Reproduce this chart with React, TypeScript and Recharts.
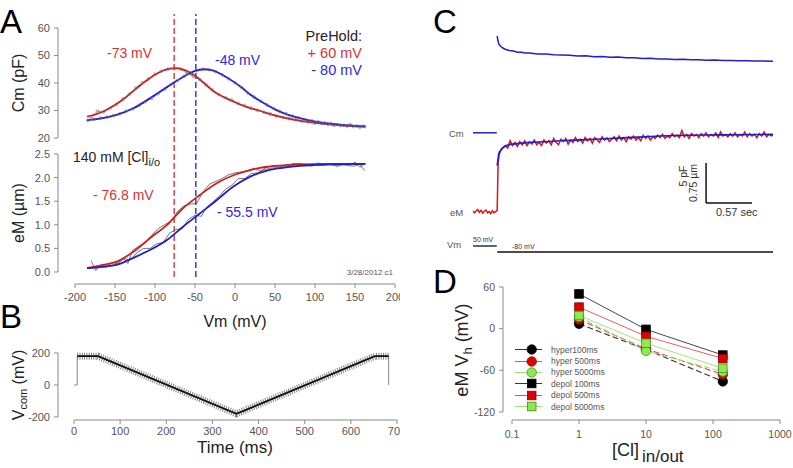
import React from 'react';
import { LineChart, Line, XAxis, YAxis, ReferenceLine, Legend } from 'recharts';

const W = 793;
const H = 468;
const FONT = '"Liberation Sans", Arial, Helvetica, sans-serif';
const RED = '#cc1f1f';
const BLUE = '#1f1fcc';
const TXT_RED = '#d43434';
const TXT_BLUE = '#2b2bd6';
const AXIS = '#8a8a8a';
const TICK = { fontSize: 11, fill: '#555', fontFamily: FONT };

// ---- A: Cm (pF) vs Vm (mV)
const cmFitRed = [[-185, 27.8], [-170, 29.0], [-155, 31.2], [-140, 34.0], [-125, 37.6], [-110, 41.0], [-95, 43.8], [-82, 45.2], [-73, 45.4], [-62, 44.6], [-50, 42.6], [-38, 39.8], [-25, 36.6], [-12, 34.6], [0, 33.0], [15, 31.2], [30, 30.0], [45, 28.6], [60, 27.5], [80, 26.3], [100, 25.5], [125, 24.8], [145, 24.4], [163, 24.1]];
const cmFitBlue = [[-185, 26.5], [-165, 27.2], [-148, 28.4], [-127, 30.8], [-106, 34.5], [-85, 38.5], [-65, 42.2], [-50, 44.4], [-40, 45.0], [-28, 44.6], [-15, 42.8], [-2, 40.5], [10, 38.0], [19, 35.8], [30, 33.7], [40, 32.0], [50, 30.4], [61, 29.0], [81, 27.2], [102, 25.9], [123, 25.1], [145, 24.5], [163, 24.2]];
const cmDataDepol = [[-180, 27.0], [-172, 29.8], [-164, 29.5], [-156, 30.9], [-148, 32.2], [-140, 34.2], [-132, 36.0], [-124, 38.2], [-116, 40.1], [-108, 41.6], [-100, 43.2], [-92, 44.3], [-84, 45.0], [-76, 45.3], [-68, 45.0], [-60, 43.6], [-52, 42.4], [-44, 41.2], [-36, 39.2], [-28, 37.4], [-20, 35.8], [-12, 34.7], [-4, 33.8], [4, 32.6], [12, 31.8], [20, 30.9], [28, 30.1], [36, 29.4], [44, 28.8], [52, 28.0], [60, 27.5], [68, 27.0], [76, 26.6], [84, 26.1], [92, 25.8], [100, 25.4], [108, 25.3], [116, 25.0], [124, 24.6], [132, 24.5], [140, 24.3], [148, 24.2], [156, 23.9], [162, 24.2]];
const cmDataHyper = [[-184, 26.3], [-176, 26.8], [-168, 27.3], [-160, 27.6], [-152, 28.2], [-144, 28.8], [-136, 29.8], [-128, 30.6], [-120, 31.8], [-112, 33.2], [-104, 34.4], [-96, 36.1], [-88, 37.8], [-80, 39.4], [-72, 40.9], [-64, 42.4], [-56, 43.6], [-48, 44.5], [-40, 45.0], [-32, 44.8], [-24, 44.1], [-16, 43.0], [-8, 41.6], [0, 40.1], [8, 38.4], [16, 36.4], [24, 34.9], [32, 33.4], [40, 32.0], [48, 30.8], [56, 29.7], [64, 28.8], [72, 28.0], [80, 27.3], [88, 26.7], [96, 26.3], [104, 25.9], [112, 25.5], [120, 25.3], [128, 24.9], [136, 24.6], [144, 24.9], [152, 24.4], [160, 24.3]];

// ---- A: eM (um) vs Vm (mV)
const emFitRed = [[-185, 0.08], [-165, 0.15], [-148, 0.22], [-127, 0.43], [-106, 0.72], [-85, 1.0], [-65, 1.35], [-44, 1.63], [-23, 1.88], [-2, 2.05], [19, 2.16], [40, 2.23], [60, 2.26], [81, 2.28], [120, 2.29], [163, 2.29]];
const emFitBlue = [[-185, 0.08], [-165, 0.11], [-148, 0.15], [-127, 0.3], [-106, 0.47], [-85, 0.68], [-65, 0.96], [-44, 1.24], [-23, 1.52], [-2, 1.81], [19, 2.02], [40, 2.15], [61, 2.21], [81, 2.25], [120, 2.28], [163, 2.29]];
const emDataDepol = [[-180, 0.24], [-174, 0.03], [-168, 0.15], [-160, 0.12], [-152, 0.2], [-146, 0.18], [-140, 0.3], [-134, 0.18], [-128, 0.46], [-120, 0.55], [-112, 0.62], [-104, 0.78], [-96, 0.92], [-88, 1.0], [-80, 1.08], [-72, 1.28], [-64, 1.4], [-56, 1.44], [-48, 1.45], [-40, 1.7], [-32, 1.86], [-24, 1.92], [-16, 1.98], [-8, 2.06], [0, 2.1], [8, 2.12], [16, 2.15], [24, 2.2], [32, 2.14], [40, 2.22], [48, 2.25], [56, 2.24], [64, 2.22], [72, 2.3], [80, 2.3], [88, 2.28], [96, 2.24], [104, 2.31], [112, 2.27], [120, 2.3], [128, 2.23], [136, 2.3], [144, 2.27], [150, 2.33], [156, 2.22], [162, 2.3]];
const emDataHyper = [[-178, 0.1], [-170, 0.14], [-162, 0.1], [-154, 0.14], [-146, 0.2], [-138, 0.28], [-130, 0.26], [-122, 0.42], [-114, 0.5], [-106, 0.5], [-98, 0.6], [-90, 0.62], [-82, 0.82], [-74, 0.9], [-66, 0.92], [-58, 1.12], [-50, 1.2], [-42, 1.18], [-36, 1.36], [-28, 1.48], [-20, 1.6], [-12, 1.75], [-4, 1.84], [4, 1.98], [12, 1.98], [20, 2.08], [28, 2.1], [36, 2.16], [44, 2.2], [52, 2.21], [60, 2.2], [68, 2.26], [76, 2.24], [84, 2.27], [92, 2.25], [100, 2.28], [108, 2.26], [116, 2.28], [124, 2.26], [132, 2.27], [140, 2.26], [148, 2.24], [156, 2.28], [162, 2.15]];
const vhRed = -76;
const vhBlue = -49;
const vmTicks = [-200, -150, -100, -50, 0, 50, 100, 150, 200];
const cmTicks = [20, 30, 40, 50, 60];
const emTicks = [0, 0.5, 1.0, 1.5, 2.0, 2.5];

// ---- B: command voltage
const vcomStep = [[0, 0], [7, 0], [7, 180], [52, 180], [352, -180], [652, 180], [682, 180], [682, 0]];
const vcomRamp = [[7, 180], [52, 180], [352, -180], [652, 180], [682, 180]];
const timeTicks = [0, 100, 200, 300, 400, 500, 600, 700];
const vcomTicks = [-200, -100, 0, 100, 200];

// ---- C: traces (time in s, amplitude in pF-equivalent)
const cTopBlue = [[0, 28.0], [0.01, 27.4], [0.02, 27.0], [0.04, 26.75], [0.07, 26.5], [0.1, 26.35], [0.15, 26.2], [0.2, 26.12], [0.25, 25.98], [0.3, 25.97], [0.35, 25.88], [0.4, 25.86], [0.5, 25.76], [0.6, 25.74], [0.7, 25.66], [0.8, 25.62], [0.9, 25.6], [1.0, 25.5], [1.1, 25.52], [1.2, 25.42], [1.3, 25.44], [1.4, 25.35], [1.5, 25.37], [1.6, 25.28], [1.7, 25.29], [1.8, 25.2], [1.9, 25.22], [2.0, 25.13], [2.1, 25.14], [2.2, 25.06], [2.3, 25.09], [2.4, 25.02], [2.5, 25.04], [2.6, 24.97], [2.7, 24.99], [2.8, 24.93], [2.9, 24.95], [3.0, 24.9], [3.1, 24.92], [3.2, 24.86], [3.3, 24.88], [3.42, 24.84]];
const cCmPre = [[-0.3, 15.9], [-0.005, 15.9]];
const cEmBlue = [[0, 11.8], [0.01, 12.6], [0.02, 13.3], [0.04, 13.7], [0.06, 13.96], [0.1, 14.25], [0.16, 14.45], [0.25, 14.55], [0.37, 14.67], [0.5, 14.75], [0.65, 14.82], [0.78, 14.9], [0.9, 14.95], [1.05, 15.02], [1.2, 15.1], [1.35, 15.16], [1.5, 15.24], [1.61, 15.3], [1.75, 15.36], [1.9, 15.44], [2.02, 15.5], [2.18, 15.56], [2.35, 15.6], [2.6, 15.62], [2.8, 15.64], [3.0, 15.65], [3.2, 15.68], [3.42, 15.7]];
const cEmRed = [[-0.3, 6.1], [-0.28, 5.9], [-0.26, 6.15], [-0.24, 6.3], [-0.22, 5.95], [-0.2, 6.2], [-0.18, 5.85], [-0.16, 6.1], [-0.14, 6.25], [-0.12, 5.9], [-0.1, 6.05], [-0.08, 5.8], [-0.06, 6.15], [-0.04, 5.9], [-0.02, 6.05], [0.0, 6.2], [0.005, 9.0], [0.012, 12.2], [0.025, 13.2], [0.045, 13.7], [0.07, 14.0], [0.1, 14.3], [0.13, 14.0], [0.16, 14.9], [0.19, 14.3], [0.22, 14.7], [0.25, 14.2], [0.28, 14.8], [0.31, 14.4], [0.34, 14.9], [0.37, 14.3], [0.4, 14.8], [0.43, 14.5], [0.46, 15.0], [0.49, 14.4], [0.52, 14.7], [0.55, 14.3], [0.58, 15.0], [0.61, 14.6], [0.64, 14.9], [0.67, 14.4], [0.7, 15.2], [0.73, 14.7], [0.76, 14.4], [0.79, 15.1], [0.82, 14.8], [0.85, 15.2], [0.88, 14.5], [0.91, 15.0], [0.94, 14.7], [0.97, 15.3], [1.0, 14.8], [1.03, 15.1], [1.06, 14.6], [1.09, 15.3], [1.12, 14.9], [1.15, 15.2], [1.18, 14.6], [1.21, 15.3], [1.24, 15.0], [1.27, 14.7], [1.3, 15.4], [1.33, 15.0], [1.36, 15.3], [1.39, 14.8], [1.42, 15.1], [1.45, 15.4], [1.48, 14.9], [1.51, 15.5], [1.54, 15.0], [1.57, 15.3], [1.6, 14.8], [1.63, 15.4], [1.66, 15.1], [1.69, 15.5], [1.72, 15.0], [1.75, 15.3], [1.78, 14.9], [1.81, 15.6], [1.84, 15.2], [1.87, 15.5], [1.9, 15.0], [1.93, 15.4], [1.96, 15.2], [1.99, 15.6], [2.02, 15.3], [2.05, 15.7], [2.08, 15.2], [2.11, 15.5], [2.14, 15.3], [2.17, 15.8], [2.2, 15.4], [2.23, 15.6], [2.26, 15.3], [2.29, 16.2], [2.32, 15.4], [2.35, 15.7], [2.38, 15.2], [2.41, 15.8], [2.44, 15.5], [2.47, 15.7], [2.5, 15.3], [2.53, 15.8], [2.56, 15.5], [2.59, 15.9], [2.62, 15.4], [2.65, 15.7], [2.68, 15.5], [2.71, 15.9], [2.74, 15.3], [2.77, 16.0], [2.8, 15.5], [2.83, 15.7], [2.86, 15.4], [2.89, 15.8], [2.92, 15.5], [2.95, 15.9], [2.98, 15.4], [3.01, 15.7], [3.04, 15.5], [3.07, 16.0], [3.1, 15.4], [3.13, 15.8], [3.16, 15.5], [3.19, 15.7], [3.22, 15.3], [3.25, 15.8], [3.28, 15.5], [3.31, 16.0], [3.34, 15.4], [3.37, 15.7], [3.4, 15.5], [3.42, 15.6]];
const cVmPre = [[-0.3, 1.75], [-0.005, 1.75]];
const cVmPost = [[0, 1.0], [3.42, 1.0]];
const scaleBarT = [2.59, 3.16]; // 0.57 sec
const scaleBarY = [7.125, 12.125]; // 5 pF

// ---- D: eM Vh vs [Cl]
const clConc = [1, 10, 140];
const hyper100 = [7, -30, -76];
const hyper500 = [13, -29, -66];
const hyper5000 = [17, -32, -62];
const depol100 = [50, -1, -38];
const depol500 = [31, -11, -43];
const depol5000 = [19, -21, -57];
const clTicks = [0.1, 1, 10, 100, 1000];
const vhTicks = [-120, -60, 0, 60];

const seriesD = [
  { name: 'hyper100ms', values: hyper100, color: '#000', edge: '#000', line: '#333', shape: 'circle', dashed: true },
  { name: 'hyper 500ms', values: hyper500, color: '#e00000', edge: '#800', line: '#e05050', shape: 'circle', dashed: true },
  { name: 'hyper 5000ms', values: hyper5000, color: '#8ee84f', edge: '#3f8f1f', line: '#9be070', shape: 'circle', dashed: true },
  { name: 'depol 100ms', values: depol100, color: '#000', edge: '#000', line: '#333', shape: 'square', dashed: false },
  { name: 'depol 500ms', values: depol500, color: '#e00000', edge: '#800', line: '#e05050', shape: 'square', dashed: false },
  { name: 'depol 5000ms', values: depol5000, color: '#8ee84f', edge: '#3f8f1f', line: '#9be070', shape: 'square', dashed: false },
];

const pts = (a: number[][]) => a.map(([x, y]) => ({ x, y }));
const lin = (p: number, v1: number, p1: number, v2: number, p2: number) => v1 + ((p - p1) * (v2 - v1)) / (p2 - p1);
// plot box in page pixels -> chart margin
const box = (l: number, t: number, r: number, b: number, yw = 0, xh = 0) => ({ left: l - yw, top: t, right: W - r, bottom: H - b - xh });
const layer: React.CSSProperties = { position: 'absolute', left: 0, top: 0 };

const aX0 = lin(58, -200, 75, 200, 395);
const emY0 = lin(284, 2.5, 154, 0, 272);

const PanelCm = () => (
  <div style={layer}>
    <LineChart width={W} height={H} margin={box(58, 28, 395, 138, 40)}>
      <XAxis type="number" dataKey="x" domain={[aX0, 200]} hide />
      <YAxis type="number" domain={[20, 60]} ticks={cmTicks} width={40} tick={TICK} tickSize={4} tickMargin={4} stroke={AXIS} />
      <Line data={pts(cmDataDepol)} dataKey="y" stroke="#777" strokeWidth={0.7} dot={{ r: 1.4, stroke: '#777', strokeWidth: 0.6, fill: 'none' }} isAnimationActive={false} />
      <Line data={pts(cmDataHyper)} dataKey="y" stroke="#777" strokeWidth={0.7} dot={{ r: 1.4, stroke: '#777', strokeWidth: 0.6, fill: 'none' }} isAnimationActive={false} />
      <Line data={pts(cmFitRed)} dataKey="y" type="monotone" stroke={RED} strokeWidth={1.8} dot={false} isAnimationActive={false} />
      <Line data={pts(cmFitBlue)} dataKey="y" type="monotone" stroke={BLUE} strokeWidth={1.8} dot={false} isAnimationActive={false} />
    </LineChart>
  </div>
);

const PanelEm = () => (
  <div style={layer}>
    <LineChart width={W} height={H} margin={box(58, 154, 395, 284, 40, 30)}>
      <XAxis type="number" dataKey="x" domain={[aX0, 200]} ticks={vmTicks} height={30} tick={TICK} tickSize={4} tickMargin={5} stroke={AXIS} axisLine={false} />
      <YAxis type="number" domain={[emY0, 2.5]} ticks={emTicks} tickFormatter={(v: number) => v.toFixed(1)} width={40} tick={TICK} tickSize={4} tickMargin={4} stroke={AXIS} axisLine={false} />
      <ReferenceLine segment={[{ x: aX0, y: 0 }, { x: aX0, y: 2.5 }]} stroke={AXIS} ifOverflow="visible" />
      <ReferenceLine segment={[{ x: -200, y: emY0 }, { x: 200, y: emY0 }]} stroke={AXIS} ifOverflow="visible" />
      <ReferenceLine segment={[{ x: vhRed, y: lin(277, 2.5, 154, 0, 272) }, { x: vhRed, y: lin(14, 2.5, 154, 0, 272) }]} stroke="#d04848" strokeWidth={1.5} strokeDasharray="6 3" ifOverflow="visible" />
      <ReferenceLine segment={[{ x: vhBlue, y: lin(277, 2.5, 154, 0, 272) }, { x: vhBlue, y: lin(14, 2.5, 154, 0, 272) }]} stroke="#3a3ad6" strokeWidth={1.5} strokeDasharray="6 3" ifOverflow="visible" />
      <Line data={pts(emDataDepol)} dataKey="y" stroke="#555" strokeWidth={0.8} dot={false} isAnimationActive={false} />
      <Line data={pts(emDataHyper)} dataKey="y" stroke="#555" strokeWidth={0.8} dot={false} isAnimationActive={false} />
      <Line data={pts(emFitRed)} dataKey="y" type="monotone" stroke={RED} strokeWidth={1.8} dot={false} isAnimationActive={false} />
      <Line data={pts(emFitBlue)} dataKey="y" type="monotone" stroke={BLUE} strokeWidth={1.8} dot={false} isAnimationActive={false} />
    </LineChart>
  </div>
);

const bX0 = lin(58, 0, 74, 700, 397);
const bY0 = lin(420, 200, 353, -200, 417);

const PanelB = () => (
  <div style={layer}>
    <LineChart width={W} height={H} margin={box(58, 353, 397, 420, 40, 40)}>
      <XAxis type="number" dataKey="x" domain={[bX0, 700]} ticks={timeTicks} height={40} tick={TICK} tickSize={4} tickMargin={3} stroke={AXIS} axisLine={false} />
      <YAxis type="number" domain={[bY0, 200]} ticks={vcomTicks} width={40} tick={TICK} tickSize={4} tickMargin={4} stroke={AXIS} axisLine={false} />
      <ReferenceLine segment={[{ x: bX0, y: -200 }, { x: bX0, y: 200 }]} stroke={AXIS} ifOverflow="visible" />
      <ReferenceLine segment={[{ x: 0, y: bY0 }, { x: 700, y: bY0 }]} stroke={AXIS} ifOverflow="visible" />
      <Line data={pts(vcomStep)} dataKey="y" stroke="#888" strokeWidth={1} dot={false} isAnimationActive={false} />
      <Line data={pts(vcomRamp)} dataKey="y" stroke="#7a7a7a" strokeWidth={7} strokeDasharray="0.9 1.4" dot={false} isAnimationActive={false} />
      <Line data={pts(vcomRamp)} dataKey="y" stroke="#111" strokeWidth={1.8} dot={false} isAnimationActive={false} />
    </LineChart>
  </div>
);

const PanelC = () => (
  <div style={layer}>
    <LineChart width={W} height={H} margin={box(473, 20, 773, 260)}>
      <XAxis type="number" dataKey="x" domain={[-0.3, 3.42]} hide />
      <YAxis type="number" domain={[0, 30]} hide />
      <Line data={pts(cTopBlue)} dataKey="y" stroke={BLUE} strokeWidth={1.5} dot={false} isAnimationActive={false} />
      <Line data={pts(cCmPre)} dataKey="y" stroke={BLUE} strokeWidth={1.5} dot={false} isAnimationActive={false} />
      <Line data={pts(cEmRed)} dataKey="y" stroke="#d41a1a" strokeWidth={1.5} dot={false} isAnimationActive={false} />
      <Line data={pts(cEmBlue)} dataKey="y" stroke={BLUE} strokeWidth={1.6} dot={false} isAnimationActive={false} />
      <Line data={pts(cVmPre)} dataKey="y" stroke="#111" strokeWidth={1.3} dot={false} isAnimationActive={false} />
      <Line data={pts(cVmPost)} dataKey="y" stroke="#111" strokeWidth={1.5} dot={false} isAnimationActive={false} />
      <ReferenceLine segment={[{ x: scaleBarT[0], y: scaleBarY[0] }, { x: scaleBarT[0], y: scaleBarY[1] }]} stroke="#111" strokeWidth={1.5} ifOverflow="visible" />
      <ReferenceLine segment={[{ x: scaleBarT[0], y: scaleBarY[0] }, { x: scaleBarT[1], y: scaleBarY[0] }]} stroke="#111" strokeWidth={1.5} ifOverflow="visible" />
    </LineChart>
  </div>
);

const Marker = ({ cx, cy, s }: { cx: number; cy: number; s: (typeof seriesD)[number] }) =>
  s.shape === 'circle' ? (
    <circle cx={cx} cy={cy} r={4.7} fill={s.color} stroke={s.edge} strokeWidth={0.8} />
  ) : (
    <rect x={cx - 4.3} y={cy - 4.3} width={8.6} height={8.6} fill={s.color} stroke={s.edge} strokeWidth={0.8} />
  );

const LegendD = () => (
  <div style={{ fontFamily: FONT, fontSize: 8.5, color: '#555' }}>
    {seriesD.map((s) => (
      <div key={s.name} style={{ display: 'flex', alignItems: 'center', height: 11.4 }}>
        <svg width={28} height={11} style={{ display: 'block' }}>
          <line x1={0} y1={5.5} x2={27} y2={5.5} stroke={s.line} strokeWidth={1} />
          <Marker cx={16.7} cy={5.5} s={s} />
        </svg>
        <span style={{ marginLeft: 8, whiteSpace: 'nowrap' }}>{s.name}</span>
      </div>
    ))}
  </div>
);

const dX0 = 10 ** lin(503, -1, 512, 3, 780);
const dY0 = lin(420, 60, 287, -120, 412);

const PanelD = () => (
  <div style={layer}>
    <LineChart width={W} height={H} margin={box(503, 287, 780, 420, 40, 40)}>
      <XAxis type="number" dataKey="x" scale="log" domain={[dX0, 1000]} ticks={clTicks} tickFormatter={(v: number) => String(v)} height={40} tick={{ ...TICK, fontSize: 10.5 }} tickSize={4} tickMargin={7} stroke={AXIS} axisLine={false} />
      <YAxis type="number" domain={[dY0, 60]} ticks={vhTicks} width={40} tick={{ ...TICK, fontSize: 10.5 }} tickSize={4} tickMargin={4} stroke={AXIS} axisLine={false} />
      <ReferenceLine segment={[{ x: dX0, y: -120 }, { x: dX0, y: 60 }]} stroke={AXIS} ifOverflow="visible" />
      <ReferenceLine segment={[{ x: 0.1, y: dY0 }, { x: 1000, y: dY0 }]} stroke={AXIS} ifOverflow="visible" />
      {seriesD.map((s) => (
        <Line
          key={s.name}
          name={s.name}
          data={clConc.map((x, i) => ({ x, y: s.values[i] }))}
          dataKey="y"
          stroke={s.line}
          strokeWidth={s.dashed ? 1.1 : 0.9}
          strokeDasharray={s.dashed ? '6 3' : undefined}
          dot={(p: any) => <Marker key={`${s.name}-${p.index}`} cx={p.cx} cy={p.cy} s={s} />}
          isAnimationActive={false}
        />
      ))}
      <Legend layout="vertical" align="center" verticalAlign="middle" wrapperStyle={{ position: 'absolute', left: 515, top: 344, width: 110, height: 70 }} content={() => <LegendD />} />
    </LineChart>
  </div>
);

const Overlay = () => (
  <svg width={W} height={H} style={{ ...layer, pointerEvents: 'none' }} fontFamily={FONT}>
    <text x={0} y={33} fontSize={33}>A</text>
    <text x={0} y={328} fontSize={33}>B</text>
    <text x={433} y={33} fontSize={33}>C</text>
    <text x={433} y={293} fontSize={33}>D</text>

    <text x={24} y={83} fontSize={16} fill="#222" textAnchor="middle" transform="rotate(-90 24 83)">Cm (pF)</text>
    <text x={24} y={213} fontSize={16} fill="#222" textAnchor="middle" transform="rotate(-90 24 213)">eM (µm)</text>
    <text x={235} y={327} fontSize={16} fill="#222" textAnchor="middle">Vm (mV)</text>
    <text x={107} y={58} fontSize={14} fill={TXT_RED}>-73 mV</text>
    <text x={215} y={65} fontSize={14} fill={TXT_BLUE}>-48 mV</text>
    <text x={362} y={41} fontSize={14.5} fill="#222" textAnchor="end">PreHold:</text>
    <text x={362} y={58} fontSize={14.5} fill={TXT_RED} textAnchor="end">+ 60 mV</text>
    <text x={362} y={75} fontSize={14.5} fill={TXT_BLUE} textAnchor="end">- 80 mV</text>
    <text x={73} y={162} fontSize={14} fill="#222">140 mM [Cl]<tspan dy={4} fontSize={11}>i/o</tspan></text>
    <text x={93} y={200} fontSize={14} fill={TXT_RED}>- 76.8 mV</text>
    <text x={217} y={217} fontSize={14} fill={TXT_BLUE}>- 55.5 mV</text>
    <text x={393} y={275} fontSize={8} fill="#555" textAnchor="end">3/28/2012 c1</text>

    <text x={24} y={385} fontSize={16} fill="#222" textAnchor="middle" transform="rotate(-90 24 385)">V<tspan dy={3} fontSize={11}>com</tspan><tspan dy={-3}> (mV)</tspan></text>
    <text x={235} y={453} fontSize={17} fill="#222" textAnchor="middle">Time (ms)</text>

    <text x={449} y={137} fontSize={9.5} fill="#555">Cm</text>
    <text x={450} y={216} fontSize={9.5} fill="#555">eM</text>
    <text x={447} y={248} fontSize={9.5} fill="#555">Vm</text>
    <text x={473} y={242} fontSize={7} fill="#333">50 mV</text>
    <text x={512} y={249} fontSize={7} fill="#333">-80 mV</text>
    <text x={687} y={176} fontSize={10.5} fill="#333" textAnchor="middle" transform="rotate(-90 687 176)">5 pF</text>
    <text x={697} y={183} fontSize={10.5} fill="#333" textAnchor="middle" transform="rotate(-90 697 183)">0.75 µm</text>
    <text x={716} y={216} fontSize={11} fill="#333">0.57 sec</text>

    <text x={468} y={350} fontSize={18} fill="#222" textAnchor="middle" transform="rotate(-90 468 350)">eM V<tspan dy={4} fontSize={13}>h</tspan><tspan dy={-4}> (mV)</tspan></text>
    <text x={612} y={456} fontSize={18} fill="#222">[Cl]<tspan dx={3} dy={6} fontSize={17}>in/out</tspan></text>
  </svg>
);

export default function App() {
  return (
    <div style={{ position: 'absolute', left: 0, top: 0, width: W, height: H, background: '#fff', overflow: 'hidden' }}>
      <div style={{ position: 'absolute', left: 0, top: 0, width: 400, height: H, overflow: 'hidden' }}>
        <PanelEm />
        <PanelCm />
        <PanelB />
      </div>
      <PanelC />
      <PanelD />
      <Overlay />
    </div>
  );
}
